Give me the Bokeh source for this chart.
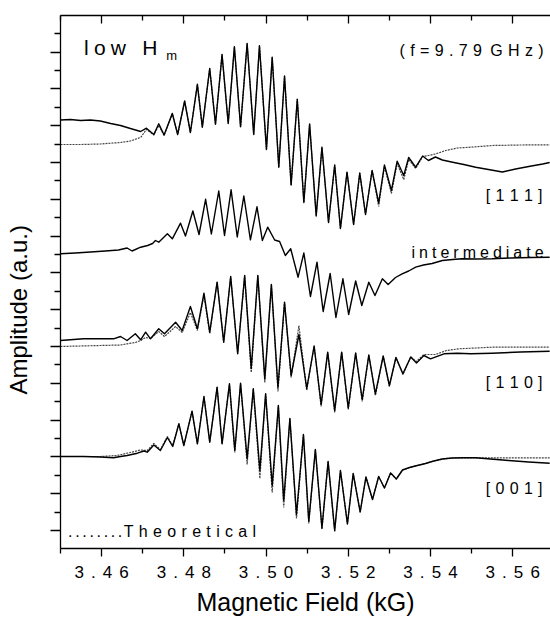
from bokeh.plotting import figure
from bokeh.models import Range1d, FixedTicker, LinearAxis, Label, Title, CustomJSTickFormatter
from bokeh.embed import file_html
from bokeh.resources import INLINE

# ---------------- data (field in kG, amplitude in arbitrary units) ----------------
tick_fields = [3.46, 3.48, 3.50, 3.52, 3.54, 3.56]
tick_labels = ["3.46", "3.48", "3.50", "3.52", "3.54", "3.56"]
minor_fields = [3.45, 3.47, 3.49, 3.51, 3.53, 3.55]

# [111] measured
field_111 = [3.4500, 3.4524, 3.4549, 3.4573, 3.4597, 3.4622, 3.4646, 3.4670, 3.4695, 3.4709,
             3.4727, 3.4739, 3.4752, 3.4772, 3.4785, 3.4802, 3.4816, 3.4833, 3.4845, 3.4863,
             3.4877, 3.4893, 3.4908, 3.4923, 3.4938, 3.4954, 3.4970, 3.4984, 3.5001, 3.5015,
             3.5031, 3.5045, 3.5061, 3.5076, 3.5092, 3.5106, 3.5122, 3.5136, 3.5152, 3.5167,
             3.5181, 3.5197, 3.5213, 3.5228, 3.5242, 3.5258, 3.5274, 3.5288, 3.5305, 3.5319,
             3.5335, 3.5347, 3.5364, 3.5381, 3.5395, 3.5412, 3.5429, 3.5454, 3.5481, 3.5510,
             3.5541, 3.5575, 3.5607, 3.5639, 3.5673, 3.5690]
amp_111 = [428.5, 429, 428, 428.5, 427.5, 425, 423, 420, 417, 420.3,
           414, 424.7, 413.5, 435, 414, 447.5, 416, 464.2, 421.3, 480,
           424.2, 494, 425, 501.7, 421.7, 505, 414, 502.7, 399, 491.3,
           381.3, 472.5, 363.5, 449.3, 346, 424.5, 332.5, 401.3, 326, 383.5,
           320, 376.3, 324, 375.5, 334, 378, 345.5, 383.5, 358, 387.3,
           373, 391, 381.3, 392.5, 388, 391.5, 388.5, 386.3, 384, 381.3,
           379, 376.5, 379.5, 382, 384.5, 386]

# [111] theoretical
field_111_th = [3.4500, 3.4549, 3.4597, 3.4646, 3.4670, 3.4695, 3.4709, 3.4727, 3.4739, 3.4752,
                3.4772, 3.4785, 3.4802, 3.4816, 3.4833, 3.4845, 3.4863, 3.4877, 3.4893, 3.4908,
                3.4923, 3.4938, 3.4954, 3.4970, 3.4984, 3.5001, 3.5015, 3.5031, 3.5045, 3.5061,
                3.5076, 3.5092, 3.5106, 3.5122, 3.5136, 3.5152, 3.5167, 3.5181, 3.5197, 3.5213,
                3.5228, 3.5242, 3.5258, 3.5274, 3.5288, 3.5305, 3.5319, 3.5335, 3.5347, 3.5364,
                3.5381, 3.5395, 3.5412, 3.5437, 3.5466, 3.5498, 3.5551, 3.5619, 3.5690]
amp_111_th = [404, 404, 404.5, 406, 407.5, 411, 419, 413.5, 423, 413,
              435, 414, 447.5, 416, 464.2, 421.3, 480, 424.2, 494, 425,
              501.7, 421.7, 505, 414, 502.7, 399, 491.3, 381.3, 472.5, 363.5,
              449.3, 346, 424.5, 332.5, 401.3, 326, 383.5, 320, 376.3, 324,
              375.5, 334, 378, 342, 382, 355, 385, 369, 389, 380,
              392, 393, 394.5, 398, 400.5, 401.3, 403, 403.5, 403.7]

# intermediate measured
field_int = [3.4500, 3.4536, 3.4573, 3.4609, 3.4641, 3.4662, 3.4674, 3.4695, 3.4712, 3.4724,
             3.4731, 3.4739, 3.4760, 3.4772, 3.4792, 3.4804, 3.4822, 3.4837, 3.4853, 3.4867,
             3.4885, 3.4899, 3.4915, 3.4930, 3.4946, 3.4962, 3.4978, 3.4991, 3.5004, 3.5021,
             3.5033, 3.5047, 3.5060, 3.5078, 3.5092, 3.5108, 3.5124, 3.5139, 3.5156, 3.5170,
             3.5187, 3.5201, 3.5218, 3.5233, 3.5250, 3.5265, 3.5283, 3.5297, 3.5315, 3.5331,
             3.5347, 3.5364, 3.5383, 3.5404, 3.5429, 3.5454, 3.5477, 3.5510, 3.5550, 3.5595,
             3.5644, 3.5690]
amp_int = [294.7, 295.5, 296.5, 297.5, 298.5, 300.5, 297.5, 301.3, 303, 305,
           308, 306.3, 314.7, 309.7, 325.3, 312.5, 337.5, 314, 349.2, 314.5,
           357.5, 313, 358.7, 311.5, 352.5, 308.7, 341.7, 308, 321.3, 308.5,
           307, 293, 299.7, 271.3, 295.5, 252, 286.3, 237, 275, 231,
           269.7, 234, 267.5, 243, 266.3, 253, 269.7, 264, 271, 274.7,
           277.5, 281.3, 283.5, 285, 288, 289, 289.7, 289.5, 289.7, 290.5,
           291, 291.3]

# [110] measured
field_110 = [3.4500, 3.4556, 3.4597, 3.4629, 3.4646, 3.4662, 3.4682, 3.4695, 3.4707, 3.4719,
             3.4739, 3.4753, 3.4780, 3.4796, 3.4816, 3.4833, 3.4849, 3.4863, 3.4881, 3.4897,
             3.4914, 3.4931, 3.4948, 3.4964, 3.4980, 3.4997, 3.5013, 3.5029, 3.5045, 3.5061,
             3.5080, 3.5099, 3.5117, 3.5134, 3.5150, 3.5167, 3.5184, 3.5200, 3.5218, 3.5234,
             3.5250, 3.5266, 3.5285, 3.5300, 3.5316, 3.5333, 3.5352, 3.5366, 3.5384, 3.5400,
             3.5433, 3.5465, 3.5498, 3.5550, 3.5619, 3.5690]
amp_110 = [208, 209.7, 209.7, 209.7, 212, 208, 214.7, 208.7, 216.3, 209.7,
           219.7, 214.7, 226.3, 218, 242, 219.7, 255.3, 216.3, 266.3, 206.3,
           272, 194.7, 273, 179.7, 273, 169.7, 264, 161.3, 246.3, 173,
           214, 160, 202.5, 144, 196.3, 138, 196.3, 140.5, 195.5, 149,
           193.5, 154.7, 192.5, 163, 191, 174.7, 191.5, 185.5, 193, 189.7,
           194.7, 195.3, 194.7, 195.3, 196.5, 197.3]

# [110] theoretical
field_110_th = [3.4500, 3.4597, 3.4646, 3.4662, 3.4682, 3.4695, 3.4707, 3.4719, 3.4739, 3.4753,
                3.4780, 3.4796, 3.4816, 3.4833, 3.4849, 3.4863, 3.4881, 3.4897, 3.4914, 3.4931,
                3.4948, 3.4964, 3.4980, 3.4997, 3.5013, 3.5029, 3.5045, 3.5061, 3.5080, 3.5099,
                3.5117, 3.5134, 3.5150, 3.5167, 3.5184, 3.5200, 3.5218, 3.5234, 3.5250, 3.5266,
                3.5285, 3.5300, 3.5316, 3.5333, 3.5352, 3.5366, 3.5384, 3.5412, 3.5439, 3.5469,
                3.5510, 3.5550, 3.5690]
amp_110_th = [202, 203, 203.5, 204.7, 206, 208, 211, 210, 217, 212,
              222, 216, 236, 218, 253, 215, 266.3, 206.3, 272, 194.7,
              273, 176, 273, 166, 264, 157, 246.3, 171, 223, 158,
              202.5, 142, 196.3, 136, 196.3, 139, 195.5, 147, 193.5, 153,
              192.5, 162, 191, 174, 191.5, 187, 194, 194, 198, 199.7,
              200.5, 201.3, 201.3]

# [001] measured
field_001 = [3.4500, 3.4556, 3.4597, 3.4629, 3.4646, 3.4662, 3.4687, 3.4703, 3.4711, 3.4727,
             3.4743, 3.4760, 3.4773, 3.4788, 3.4800, 3.4820, 3.4833, 3.4849, 3.4863, 3.4881,
             3.4893, 3.4911, 3.4924, 3.4938, 3.4954, 3.4969, 3.4985, 3.4999, 3.5015, 3.5030,
             3.5043, 3.5058, 3.5074, 3.5091, 3.5104, 3.5120, 3.5136, 3.5151, 3.5167, 3.5181,
             3.5198, 3.5212, 3.5229, 3.5243, 3.5259, 3.5274, 3.5288, 3.5303, 3.5317, 3.5332,
             3.5349, 3.5368, 3.5388, 3.5408, 3.5429, 3.5453, 3.5481, 3.5510, 3.5546, 3.5590,
             3.5639, 3.5690]
amp_001 = [92, 92, 91.5, 90.7, 92, 93, 95.3, 97.5, 96.3, 103.5,
           98, 111, 102, 124.7, 103, 137.3, 104.7, 152, 106.3, 161.3,
           104.7, 164.7, 98, 165.3, 90, 159.7, 78, 154.7, 63, 143,
           48, 130, 34, 114, 27, 99, 20.5, 87, 18, 78,
           24.5, 75, 36.5, 71.5, 49, 72, 60.5, 75.5, 69.5, 78.5,
           81, 83, 85, 87.5, 89.5, 90.5, 90.7, 90.7, 89.5, 88,
           86.5, 85.3]

# [001] theoretical
field_001_th = [3.4500, 3.4597, 3.4638, 3.4670, 3.4695, 3.4711, 3.4727, 3.4743, 3.4760, 3.4773,
                3.4788, 3.4800, 3.4820, 3.4833, 3.4849, 3.4863, 3.4881, 3.4893, 3.4911, 3.4924,
                3.4938, 3.4954, 3.4969, 3.4985, 3.4999, 3.5015, 3.5030, 3.5043, 3.5058, 3.5074,
                3.5091, 3.5104, 3.5120, 3.5136, 3.5151, 3.5167, 3.5181, 3.5198, 3.5212, 3.5229,
                3.5243, 3.5259, 3.5274, 3.5288, 3.5303, 3.5317, 3.5332, 3.5349, 3.5368, 3.5388,
                3.5408, 3.5429, 3.5453, 3.5510, 3.5590, 3.5690]
amp_001_th = [92, 92, 93, 96, 98.5, 98, 105, 99, 112, 103,
              124.7, 103, 137.3, 104.7, 152, 106.3, 161.3, 104.7, 164.7, 96,
              165.3, 84, 159.7, 70, 154.7, 56, 143, 41, 130, 30,
              114, 25, 99, 19, 87, 17, 78, 24.5, 75, 36.5,
              71.5, 49, 72, 60.5, 75.5, 69.5, 78.5, 81, 83, 85,
              87.5, 89.5, 90.5, 90.7, 90.7, 90.7]

measured = [(field_111, amp_111), (field_int, amp_int), (field_110, amp_110), (field_001, amp_001)]
theoretical = [(field_111_th, amp_111_th), (field_110_th, amp_110_th), (field_001_th, amp_001_th)]

# ---------------- styling ----------------
FONT = "Liberation Sans"


def spaced(s, gap):
    return gap.join(list(s))


p = figure(frame_width=490, frame_height=533,
           x_range=Range1d(3.45, 3.5692), y_range=Range1d(0, 533),
           output_backend="svg", toolbar_location=None,
           min_border_left=60, min_border_right=0, min_border_top=15, min_border_bottom=66,
           background_fill_color="white", border_fill_color="white")
p.outline_line_color = None
p.xgrid.visible = False
p.ygrid.visible = False

# bottom axis
xax = p.xaxis[0]
xax.ticker = FixedTicker(ticks=tick_fields, minor_ticks=minor_fields)
xax.major_label_overrides = {v: spaced(l, "\u2004\u200a") for v, l in zip(tick_fields, tick_labels)}
xax.major_tick_out = 8
xax.major_tick_in = 0
xax.minor_tick_out = 5
xax.minor_tick_in = 0
xax.axis_line_width = 1.3
xax.major_tick_line_width = 1.3
xax.minor_tick_line_width = 1.3
xax.major_label_text_font = FONT
xax.major_label_text_font_size = "17px"
xax.major_label_text_color = "black"
xax.major_label_standoff = 6
xax.axis_label = "Magnetic Field (kG)"
xax.axis_label_text_font = FONT
xax.axis_label_text_font_size = "25px"
xax.axis_label_text_font_style = "normal"
xax.axis_label_text_color = "black"
xax.axis_label_standoff = 3

# left axis (ticks only; blank em-space labels reserve room before the title)
yax = p.yaxis[0]
yax.ticker = FixedTicker(ticks=[18 + 36.8 * k for k in range(15)],
                         minor_ticks=[36.4 + 36.8 * k for k in range(14)])
yax.formatter = CustomJSTickFormatter(code="return '\u2003'")
yax.major_label_text_font = FONT
yax.major_label_text_font_size = "16px"
yax.major_label_standoff = 0
yax.major_tick_out = 10
yax.major_tick_in = 0
yax.minor_tick_out = 6
yax.minor_tick_in = 0
yax.axis_line_width = 1.3
yax.major_tick_line_width = 1.3
yax.minor_tick_line_width = 1.3

# y-axis title (placed off-centre like the reference)
ytitle = Title(text="Amplitude (a.u.)", align="left", offset=154, standoff=0,
               text_font=FONT, text_font_size="24px", text_font_style="normal",
               text_color="black")
p.add_layout(ytitle, "left")

# top axis (inward ticks, no labels)
top = LinearAxis(ticker=FixedTicker(ticks=tick_fields, minor_ticks=minor_fields),
                 formatter=CustomJSTickFormatter(code="return ''"),
                 major_label_text_font_size="1px", major_label_standoff=0,
                 major_tick_in=8, major_tick_out=0, minor_tick_in=5, minor_tick_out=0,
                 axis_line_width=1.3, major_tick_line_width=1.3, minor_tick_line_width=1.3)
p.add_layout(top, "above")

# curves: theoretical (dotted) below, measured (solid) on top
for fx, fy in theoretical:
    p.line(fx, fy, line_color="#444444", line_width=1.2, line_dash="2 1")
for fx, fy in measured:
    p.line(fx, fy, line_color="black", line_width=1.4, line_join="round")


def add_label(x, y, text, size, align="left"):
    p.add_layout(Label(x=x, y=y, text=text, text_font=FONT, text_font_size=size,
                       text_align=align, text_baseline="alphabetic",
                       text_color="black"))


add_label(3.45572, 501.3, spaced("low", "\u2005"), "21px")
add_label(3.46990, 501.3, "H", "21px")
add_label(3.47572, 493.0, "m", "13px")
add_label(3.56752, 497.7, spaced("(f=9.79", "\u2005\u200a") + "\u2005 " + spaced("GHz)", "\u2005\u200a"), "16px", align="right")
add_label(3.56727, 353.0, spaced("[111]", "\u2005\u200a"), "16px", align="right")
add_label(3.56752, 296.3, spaced("intermediate", "\u2005"), "16px", align="right")
add_label(3.56727, 166.3, spaced("[110]", "\u2005\u200a"), "16px", align="right")
add_label(3.56727, 59.7, spaced("[001]", "\u2005\u200a"), "16px", align="right")
add_label(3.45185, 17.0, spaced("........", "\u2006") + "\u200a" + spaced("Theoretical", "\u2004"), "16px")

open("out.html", "w").write(file_html(p, INLINE))
